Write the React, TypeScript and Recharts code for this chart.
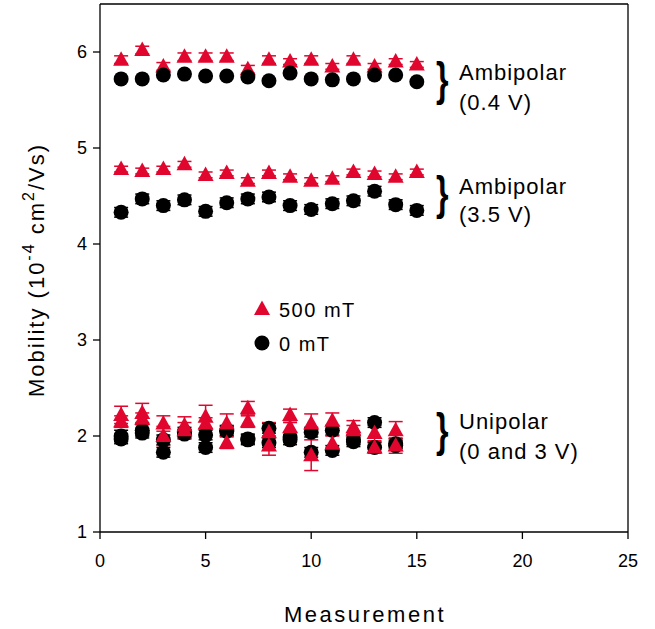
import React from 'react';
import { ScatterChart, Scatter, XAxis, YAxis, ErrorBar, ReferenceLine } from 'recharts';

const FONT = '"Liberation Sans", Arial, sans-serif';
const RED = '#E0062E';

// measurement index
const measAmb = [1, 2, 3, 4, 5, 6, 7, 8, 9, 10, 11, 12, 13, 14, 15];
const measUni = [1, 2, 3, 4, 5, 6, 7, 8, 9, 10, 11, 12, 13, 14];

// Ambipolar (0.4 V)
const amb04_500 = [5.92, 6.02, 5.85, 5.95, 5.95, 5.95, 5.82, 5.92, 5.9, 5.92, 5.85, 5.92, 5.85, 5.9, 5.87];
const amb04_500err = [0.04, 0.04, 0.04, 0.04, 0.04, 0.04, 0.04, 0.04, 0.03, 0.04, 0.03, 0.04, 0.03, 0.03, 0.03];
const amb04_0 = [5.72, 5.72, 5.76, 5.77, 5.75, 5.75, 5.74, 5.7, 5.78, 5.72, 5.71, 5.72, 5.76, 5.76, 5.69];

// Ambipolar (3.5 V)
const amb35_500 = [4.78, 4.76, 4.78, 4.83, 4.72, 4.74, 4.66, 4.74, 4.7, 4.66, 4.68, 4.75, 4.73, 4.7, 4.75];
const amb35_500err = [0.03, 0.03, 0.03, 0.03, 0.03, 0.03, 0.03, 0.03, 0.03, 0.03, 0.03, 0.03, 0.03, 0.03, 0.03];
const amb35_0 = [4.33, 4.47, 4.4, 4.46, 4.34, 4.43, 4.47, 4.49, 4.4, 4.36, 4.42, 4.45, 4.55, 4.41, 4.35];
const amb35_0err = [0.05, 0.05, 0.05, 0.05, 0.05, 0.05, 0.05, 0.05, 0.05, 0.05, 0.05, 0.05, 0.05, 0.05, 0.05];

// Unipolar (0 and 3 V)
const uniA_500 = [2.22, 2.24, 2.13, 2.11, 2.2, 2.13, 2.29, 2.04, 2.22, 2.13, 2.16, 2.09, 2.03, 2.06];
const uniA_500err = [0.09, 0.1, 0.08, 0.09, 0.12, 0.1, 0.07, 0.1, 0.06, 0.1, 0.08, 0.07, 0.08, 0.09];
const uniB_500 = [2.15, 2.18, 2.0, 2.06, 2.13, 1.93, 2.15, 1.9, 2.09, 1.8, 1.92, 2.06, 1.88, 1.9];
const uniB_500err = [0.06, 0.06, 0.1, 0.08, 0.06, 0.06, 0.06, 0.1, 0.05, 0.16, 0.08, 0.05, 0.06, 0.08];
const uniA_0 = [2.0, 2.06, 1.96, 2.04, 2.01, 2.06, 1.96, 2.08, 1.99, 2.04, 2.06, 1.96, 2.14, 1.92];
const uniA_0err = [0.06, 0.06, 0.05, 0.05, 0.05, 0.05, 0.05, 0.05, 0.05, 0.05, 0.05, 0.05, 0.05, 0.05];
const uniB_0 = [1.97, 2.03, 1.83, 2.02, 1.88, 2.05, 1.97, 1.93, 1.96, 1.83, 1.85, 1.94, 1.88, 1.9];
const uniB_0err = [0.05, 0.05, 0.05, 0.05, 0.05, 0.05, 0.05, 0.05, 0.05, 0.05, 0.05, 0.05, 0.05, 0.05];

const xTicks = [0, 5, 10, 15, 20, 25];
const yTicks = [1, 2, 3, 4, 5, 6];

const toPoints = (xs: number[], ys: number[], errs?: number[]) =>
  xs.map((x, i) => ({ x, y: ys[i], err: errs ? errs[i] : 0 }));

const Triangle = (props: any) => {
  const { cx, cy } = props;
  if (cx == null || cy == null) return null;
  return <polygon points={`${cx},${cy - 8.5} ${cx - 8},${cy + 6} ${cx + 8},${cy + 6}`} fill={RED} />;
};

const Dot = (props: any) => {
  const { cx, cy } = props;
  if (cx == null || cy == null) return null;
  return <circle cx={cx} cy={cy} r={7.5} fill="#000" />;
};

const Overlay = () => (
  <svg width={655} height={629} style={{ position: 'absolute', left: 0, top: 0, pointerEvents: 'none' }}>
    <g fontFamily={FONT} fill="#000">
      {/* y axis title */}
      <text transform="translate(44,270) rotate(-90)" textAnchor="middle" fontSize={22} letterSpacing={2}>
        Mobility (10<tspan fontSize={16} dy={-10}>-4</tspan>
        <tspan dy={10}> cm</tspan>
        <tspan fontSize={16} dy={-10}>2</tspan>
        <tspan dy={10}>/Vs)</tspan>
      </text>

      {/* x axis title */}
      <text x={365} y={622} textAnchor="middle" fontSize={22} letterSpacing={2.5}>Measurement</text>

      {/* legend */}
      <polygon points="262,300.5 254,315 270,315" fill={RED} />
      <text x={279} y={317} fontSize={20} letterSpacing={1.5}>500 mT</text>
      <circle cx={262} cy={343} r={7.5} fill="#000" />
      <text x={279} y={351} fontSize={20} letterSpacing={1.5}>0 mT</text>

      {/* group labels */}
      {[
        { b: 95, l1: 'Ambipolar', l2: '(0.4 V)', y1: 80, y2: 110 },
        { b: 209, l1: 'Ambipolar', l2: '(3.5 V)', y1: 194, y2: 222 },
        { b: 446, l1: 'Unipolar', l2: '(0 and 3 V)', y1: 429, y2: 459 },
      ].map((g) => (
        <g key={g.l2}>
          <text x={436} y={g.b} fontSize={46} fontWeight="bold" transform={`translate(${436 * 0.3},0) scale(0.7,1)`}>{'}'}</text>
          <text x={459} y={g.y1} fontSize={22} letterSpacing={1}>{g.l1}</text>
          <text x={459} y={g.y2} fontSize={22} letterSpacing={1}>{g.l2}</text>
        </g>
      ))}
    </g>
  </svg>
);

export default function App() {
  const tickStyle = { fontSize: 18, fill: '#000', fontFamily: FONT };
  return (
    <div style={{ position: 'absolute', left: 0, top: 0, width: 655, height: 629, background: '#fff' }}>
      <ScatterChart width={655} height={629} margin={{ top: 4, right: 27, left: 0, bottom: 0 }}>
        <XAxis
          type="number"
          dataKey="x"
          domain={[0, 25]}
          ticks={xTicks}
          height={97}
          tick={tickStyle}
          tickSize={7}
          tickMargin={15}
          axisLine={{ stroke: '#000', strokeWidth: 1.3 }}
          tickLine={{ stroke: '#000', strokeWidth: 1.3 }}
          interval={0}
        />
        <YAxis
          type="number"
          dataKey="y"
          domain={[1, 6.5]}
          ticks={yTicks}
          width={100}
          tick={tickStyle}
          tickSize={7}
          tickMargin={6}
          axisLine={{ stroke: '#000', strokeWidth: 1.3 }}
          tickLine={{ stroke: '#000', strokeWidth: 1.3 }}
          interval={0}
        />
        <ReferenceLine y={6.5} stroke="#000" strokeWidth={1.3} />
        <ReferenceLine x={25} stroke="#000" strokeWidth={1.3} />

        <Scatter data={toPoints(measAmb, amb04_500, amb04_500err)} shape={Triangle} isAnimationActive={false}>
          <ErrorBar dataKey="err" direction="y" width={7} stroke={RED} strokeWidth={1.5} />
        </Scatter>
        <Scatter data={toPoints(measAmb, amb04_0)} shape={Dot} isAnimationActive={false} />

        <Scatter data={toPoints(measAmb, amb35_500, amb35_500err)} shape={Triangle} isAnimationActive={false}>
          <ErrorBar dataKey="err" direction="y" width={7} stroke={RED} strokeWidth={1.5} />
        </Scatter>
        <Scatter data={toPoints(measAmb, amb35_0, amb35_0err)} shape={Dot} isAnimationActive={false}>
          <ErrorBar dataKey="err" direction="y" width={7} stroke="#000" strokeWidth={1.5} />
        </Scatter>

        <Scatter data={toPoints(measUni, uniA_0, uniA_0err)} shape={Dot} isAnimationActive={false}>
          <ErrorBar dataKey="err" direction="y" width={7} stroke="#000" strokeWidth={1.5} />
        </Scatter>
        <Scatter data={toPoints(measUni, uniB_0, uniB_0err)} shape={Dot} isAnimationActive={false}>
          <ErrorBar dataKey="err" direction="y" width={7} stroke="#000" strokeWidth={1.5} />
        </Scatter>
        <Scatter data={toPoints(measUni, uniA_500, uniA_500err)} shape={Triangle} isAnimationActive={false}>
          <ErrorBar dataKey="err" direction="y" width={7} stroke={RED} strokeWidth={1.5} />
        </Scatter>
        <Scatter data={toPoints(measUni, uniB_500, uniB_500err)} shape={Triangle} isAnimationActive={false}>
          <ErrorBar dataKey="err" direction="y" width={7} stroke={RED} strokeWidth={1.5} />
        </Scatter>
      </ScatterChart>
      <Overlay />
    </div>
  );
}
